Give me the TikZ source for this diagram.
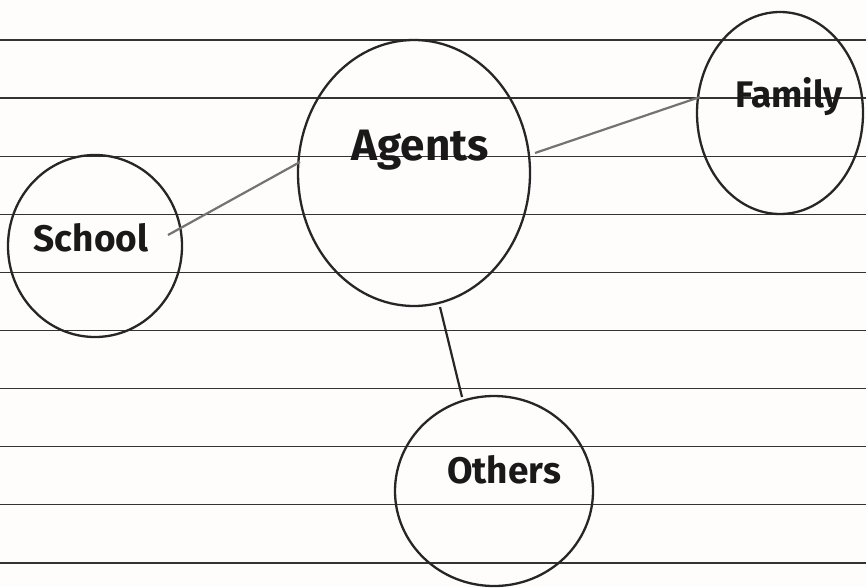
\documentclass[tikz,border=0pt]{standalone}
\usepackage{fontspec}
\setmainfont{Fira Sans}
\begin{document}
\begin{tikzpicture}[x=1pt,y=-1pt,
  ruled/.style={draw=black!80, line width=1.3pt},
  bubble/.style={draw=black!85, line width=2.3pt},
  link/.style={draw=black!55, line width=2.2pt},
  hand/.style={font=\bfseries, text=black!90, inner sep=0pt}]
\fill[white!96!pink] (0,0) rectangle (866,587);
\useasboundingbox (0,0) rectangle (866,587);
% ruled lines
\foreach \k in {0,...,9}{
  \draw[ruled] (0,{40+58.1*\k}) -- (866,{40+58.1*\k});
}
% circles
\draw[bubble] (95,246) ellipse [x radius=87, y radius=91];
\draw[bubble] (414,173) ellipse [x radius=116, y radius=133];
\draw[bubble] (780,113) ellipse [x radius=83, y radius=101];
\draw[bubble] (494,491) ellipse [x radius=99, y radius=95];
% labels
\node[hand, font=\bfseries\fontsize{37}{44}\selectfont] (school) at (91,238) {School};
\node[hand, font=\bfseries\fontsize{44}{52}\selectfont] (agents) at (420,150) {Agents};
\node[hand, font=\bfseries\fontsize{37}{44}\selectfont] (family) at (789,97) {Family};
\node[hand, font=\bfseries\fontsize{37}{44}\selectfont] (others) at (504,470) {Others};
% named anchors for connectors
\coordinate (sA) at (168,235);
\coordinate (aS) at (300,162);
\coordinate (aF) at (535,153);
\coordinate (fA) at (700,97);
\coordinate (aO) at (440,307);
\coordinate (oA) at (462,397);
\draw[link] (sA) -- (aS);
\draw[link] (aF) -- (fA);
\draw[link, black!85] (aO) -- (oA);
\end{tikzpicture}
\end{document}
